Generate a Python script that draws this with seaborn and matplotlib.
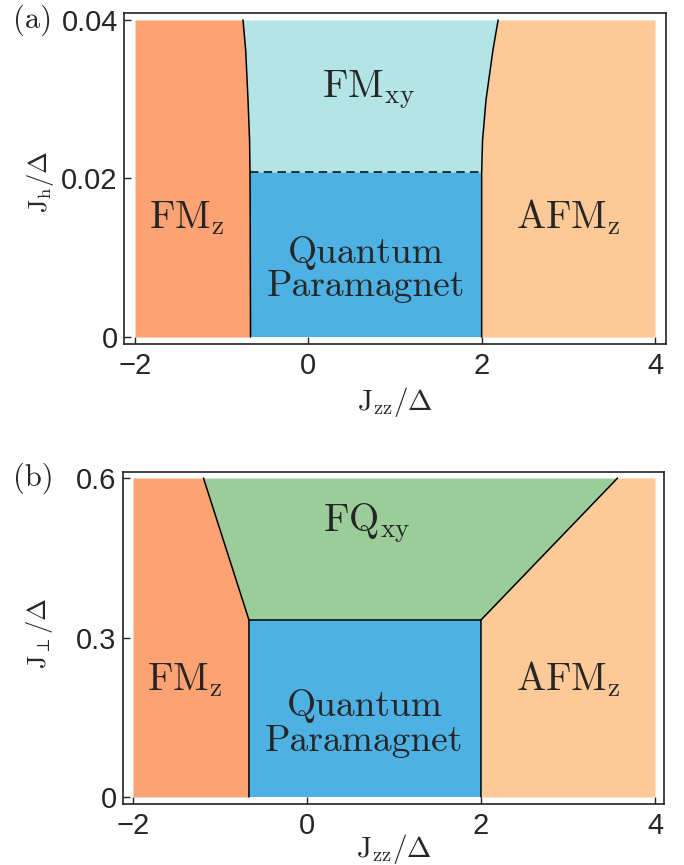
import numpy as np
import matplotlib
matplotlib.use("Agg")
import matplotlib.pyplot as plt
import seaborn as sns

# ---------------- data ----------------
# Panel (a): J_h/Delta vs J_zz/Delta
a_jh = [0.0, 0.0208, 0.0248, 0.0299, 0.0362, 0.04]
a_left = [-0.667, -0.673, -0.678, -0.696, -0.723, -0.754]
a_right = [2.0, 2.0, 2.01, 2.05, 2.13, 2.19]
a_dashed_jh = 0.0208
# Panel (b): J_perp/Delta vs J_zz/Delta
b_jp = [0.0, 0.333, 0.6]
b_left = [-0.667, -0.667, -1.19]
b_right = [2.0, 2.0, 3.57]
jzz_range = [-2.0, 4.0]
xticks = [-2, 0, 2, 4]
xtick_labels = ["\u22122", "0", "2", "4"]
a_yticks = [0, 0.02, 0.04]
a_ytick_labels = ["0", "0.02", "0.04"]
b_yticks = [0, 0.3, 0.6]
b_ytick_labels = ["0", "0.3", "0.6"]

c_fmz = "#FCA273"
c_afmz = "#FDC997"
c_qp = "#4DB1E4"
c_fmxy = "#B3E5E6"
c_fqxy = "#9BCC99"

# ---------------- style ----------------
sns.set_theme(style="white")
plt.rcParams["font.family"] = ["Liberation Sans", "DejaVu Sans"]
plt.rcParams["mathtext.fontset"] = "cm"

fig = plt.figure(figsize=(6.84, 8.65), dpi=100)
axa = fig.add_axes([0.1813, 0.6023, 0.7924, 0.3827])
axb = fig.add_axes([0.1798, 0.0705, 0.7909, 0.3838])

lab_fs = 28
qp_fs = 27
tick_fs = 21
xlab_fs = 21
ylab_fs = 19

# ---------------- panel (a) ----------------
ax = axa
i0 = a_jh.index(a_dashed_jh)
ax.fill_betweenx(a_jh, jzz_range[0], a_left, color=c_fmz, lw=0)
ax.fill_betweenx(a_jh, a_right, jzz_range[1], color=c_afmz, lw=0)
ax.fill_between([a_left[i0], a_right[i0]], 0, a_dashed_jh, color=c_qp, lw=0)
ax.fill_betweenx(a_jh[i0:], a_left[i0:], a_right[i0:], color=c_fmxy, lw=0)
sns.lineplot(x=a_left, y=a_jh, sort=False, estimator=None, color="black", lw=1.1, ax=ax)
sns.lineplot(x=a_right, y=a_jh, sort=False, estimator=None, color="black", lw=1.1, ax=ax)
sns.lineplot(x=[a_left[i0], a_right[i0]], y=[a_dashed_jh, a_dashed_jh], sort=False,
             estimator=None, color="black", lw=1.1, ax=ax,
             linestyle=(0, (5.5, 3.5)))
ax.set_xlim(-2.127, 4.127)
ax.set_ylim(-0.00088, 0.04088)
ax.text(-1.40, 0.01375, r"$\mathrm{FM}_{\mathrm{z}}$", fontsize=lab_fs, ha="center", va="baseline")
ax.text(3.00, 0.01375, r"$\mathrm{AFM}_{\mathrm{z}}$", fontsize=lab_fs, ha="center", va="baseline")
ax.text(0.69, 0.0302, r"$\mathrm{FM}_{\mathrm{xy}}$", fontsize=lab_fs, ha="center", va="baseline")
ax.text(0.66, 0.0094, "Quantum", family="cmr10", fontsize=qp_fs, ha="center", va="baseline")
ax.text(0.66, 0.0052, "Paramagnet", family="cmr10", fontsize=qp_fs, ha="center", va="baseline")
ax.set_yticks(a_yticks)
ax.set_yticklabels(a_ytick_labels)
ax.set_xlabel(r"$\mathrm{J}_{\mathrm{zz}}/\Delta$", fontsize=xlab_fs, labelpad=3)
ax.set_ylabel(r"$\mathrm{J}_{\mathrm{h}}/\Delta$", fontsize=ylab_fs)
ax.yaxis.set_label_coords(-0.125, 0.49)

# ---------------- panel (b) ----------------
ax = axb
ax.fill_betweenx(b_jp, jzz_range[0], b_left, color=c_fmz, lw=0)
ax.fill_betweenx(b_jp, b_right, jzz_range[1], color=c_afmz, lw=0)
ax.fill_between([b_left[1], b_right[1]], 0, b_jp[1], color=c_qp, lw=0)
ax.fill_betweenx(b_jp[1:], b_left[1:], b_right[1:], color=c_fqxy, lw=0)
sns.lineplot(x=b_left, y=b_jp, sort=False, estimator=None, color="black", lw=1.1, ax=ax)
sns.lineplot(x=b_right, y=b_jp, sort=False, estimator=None, color="black", lw=1.1, ax=ax)
sns.lineplot(x=[b_left[1], b_right[1]], y=[b_jp[1], b_jp[1]], sort=False,
             estimator=None, color="black", lw=1.1, ax=ax)
ax.set_xlim(-2.115, 4.103)
ax.set_ylim(-0.0132, 0.6113)
ax.text(-1.40, 0.201, r"$\mathrm{FM}_{\mathrm{z}}$", fontsize=lab_fs, ha="center", va="baseline")
ax.text(3.00, 0.201, r"$\mathrm{AFM}_{\mathrm{z}}$", fontsize=lab_fs, ha="center", va="baseline")
ax.text(0.69, 0.50, r"$\mathrm{FQ}_{\mathrm{xy}}$", fontsize=lab_fs, ha="center", va="baseline")
ax.text(0.66, 0.152, "Quantum", family="cmr10", fontsize=qp_fs, ha="center", va="baseline")
ax.text(0.66, 0.086, "Paramagnet", family="cmr10", fontsize=qp_fs, ha="center", va="baseline")
ax.set_yticks(b_yticks)
ax.set_yticklabels(b_ytick_labels)
ax.set_xlabel(r"$\mathrm{J}_{\mathrm{zz}}/\Delta$", fontsize=xlab_fs, labelpad=-6)
ax.set_ylabel(r"$\mathrm{J}_{\perp}/\Delta$", fontsize=ylab_fs)
ax.yaxis.set_label_coords(-0.125, 0.515)

for ax in (axa, axb):
    ax.set_xticks(xticks)
    ax.set_xticklabels(xtick_labels)
    ax.tick_params(axis="both", which="both", direction="in", length=5, width=1.0,
                   color="#222222", labelsize=tick_fs, bottom=True, left=True,
                   top=False, right=False)
    ax.tick_params(axis="x", pad=6)
    ax.tick_params(axis="y", pad=4.5)
    for s in ax.spines.values():
        s.set_visible(True)
        s.set_color("#222222")
        s.set_linewidth(1.2)
    ax.set_facecolor("white")

fig.text(13 / 684, 1 - 20 / 865, "(a)", family="cmr10", fontsize=22, ha="left", va="center")
fig.text(13 / 684, 1 - 478 / 865, "(b)", family="cmr10", fontsize=22, ha="left", va="center")

fig.savefig("out.png", dpi=100)
